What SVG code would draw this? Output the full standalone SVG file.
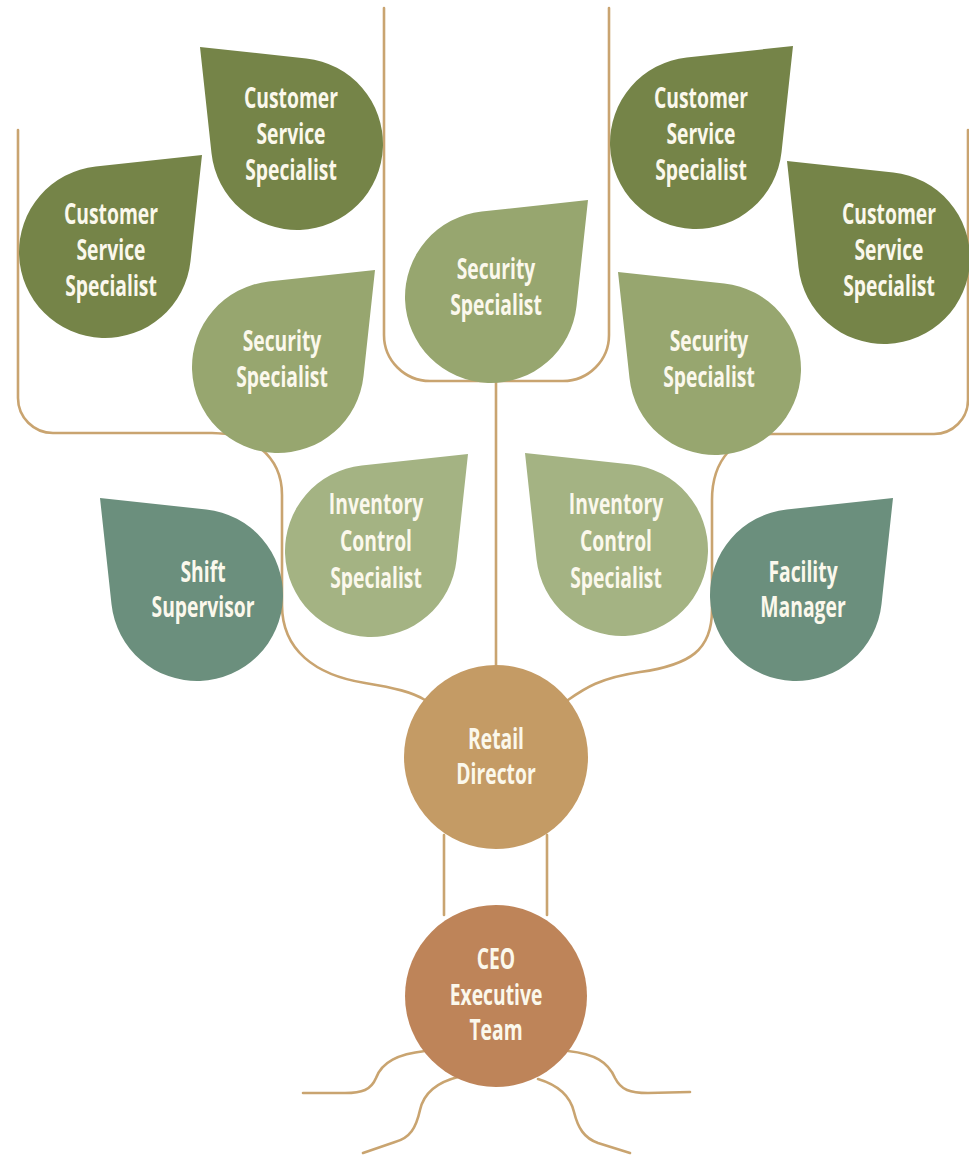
<svg xmlns="http://www.w3.org/2000/svg" xmlns:xlink="http://www.w3.org/1999/xlink" width="969" height="1158" viewBox="0 0 969 1158">
<style>
.bg{fill:#ffffff}
.ln{fill:none;stroke:#c9a470;stroke-width:2.6;stroke-linecap:round;stroke-linejoin:round}
.css{fill:#758448}
.sec{fill:#97a66f}
.inv{fill:#a4b383}
.teal{fill:#6b8f7d}
.retail{fill:#c49b65}
.ceo{fill:#be8459}
.lbl{font-family:"Open Sans","Noto Sans","DejaVu Sans",sans-serif;font-weight:700;font-size:28px;fill:#fbf8ec;text-anchor:middle}
</style>
<defs>
<path id="leafUL" d="M-97,-97 L9.3,-85.5 A86,86 0 1 1 -85.5,9.3 Z"/>
<path id="leafUR" d="M97,-97 L-9.3,-85.5 A86,86 0 1 0 85.5,9.3 Z"/>
</defs>
<rect class="bg" x="0" y="0" width="969" height="1158"/>
<g id="connectors">
<path class="ln" d="M18,130 V398 A35,35 0 0 0 53,433 H212 C250,433 282,455 282,495 V605 C282,650 315,675 365,683 C395,688 412,692 425,700"/>
<path class="ln" d="M968,130 V400 A34,34 0 0 1 934,434 H772 C735,434 712,460 712,500 V610 C712,650 690,665 640,672 C600,678 585,688 568,700"/>
<path class="ln" d="M384,8 V335 A46,46 0 0 0 430,381 H563 A46,46 0 0 0 609,335 V8"/>
<path class="ln" d="M496,381 V668"/>
<path class="ln" d="M444,835 V915"/>
<path class="ln" d="M547,835 V915"/>
<path class="ln" d="M425,1051 C398,1054 382,1062 376,1078 C371,1090 362,1093 345,1093 L303,1093"/>
<path class="ln" d="M458,1077 C438,1082 424,1092 420,1110 C416,1128 410,1138 395,1142 L363,1153"/>
<path class="ln" d="M538,1079 C558,1085 570,1095 574,1112 C578,1128 584,1138 598,1143 L630,1153"/>
<path class="ln" d="M568,1051 C595,1054 608,1062 615,1078 C621,1090 630,1093 648,1093 L690,1092"/>
</g>
<g id="css-upper-left">
<use xlink:href="#leafUL" href="#leafUL" class="css" transform="translate(297,144)"/>
<text class="lbl" transform="translate(291 0) scale(0.69 1)"><tspan x="0" y="108">Customer</tspan><tspan x="0" y="144">Service</tspan><tspan x="0" y="180">Specialist</tspan></text>
</g>
<g id="css-left">
<use xlink:href="#leafUR" href="#leafUR" class="css" transform="translate(105,252)"/>
<text class="lbl" transform="translate(111 0) scale(0.69 1)"><tspan x="0" y="224">Customer</tspan><tspan x="0" y="260">Service</tspan><tspan x="0" y="296">Specialist</tspan></text>
</g>
<g id="css-upper-right">
<use xlink:href="#leafUR" href="#leafUR" class="css" transform="translate(696,143)"/>
<text class="lbl" transform="translate(701 0) scale(0.69 1)"><tspan x="0" y="108">Customer</tspan><tspan x="0" y="144">Service</tspan><tspan x="0" y="180">Specialist</tspan></text>
</g>
<g id="css-right">
<use xlink:href="#leafUL" href="#leafUL" class="css" transform="translate(884,258)"/>
<text class="lbl" transform="translate(889 0) scale(0.69 1)"><tspan x="0" y="224">Customer</tspan><tspan x="0" y="260">Service</tspan><tspan x="0" y="296">Specialist</tspan></text>
</g>
<g id="security-left">
<use xlink:href="#leafUR" href="#leafUR" class="sec" transform="translate(278,367)"/>
<text class="lbl" transform="translate(282 0) scale(0.69 1)"><tspan x="0" y="351">Security</tspan><tspan x="0" y="387">Specialist</tspan></text>
</g>
<g id="security-center">
<use xlink:href="#leafUR" href="#leafUR" class="sec" transform="translate(491,297)"/>
<text class="lbl" transform="translate(496 0) scale(0.69 1)"><tspan x="0" y="279">Security</tspan><tspan x="0" y="315">Specialist</tspan></text>
</g>
<g id="security-right">
<use xlink:href="#leafUL" href="#leafUL" class="sec" transform="translate(715,369)"/>
<text class="lbl" transform="translate(709 0) scale(0.69 1)"><tspan x="0" y="351">Security</tspan><tspan x="0" y="387">Specialist</tspan></text>
</g>
<g id="shift-supervisor">
<use xlink:href="#leafUL" href="#leafUL" class="teal" transform="translate(197,595)"/>
<text class="lbl" transform="translate(203 0) scale(0.69 1)"><tspan x="0" y="582">Shift</tspan><tspan x="0" y="617">Supervisor</tspan></text>
</g>
<g id="inventory-left">
<use xlink:href="#leafUR" href="#leafUR" class="inv" transform="translate(371,551)"/>
<text class="lbl" transform="translate(376 0) scale(0.69 1)"><tspan x="0" y="514">Inventory</tspan><tspan x="0" y="551">Control</tspan><tspan x="0" y="588">Specialist</tspan></text>
</g>
<g id="inventory-right">
<use xlink:href="#leafUL" href="#leafUL" class="inv" transform="translate(622,550)"/>
<text class="lbl" transform="translate(616 0) scale(0.69 1)"><tspan x="0" y="514">Inventory</tspan><tspan x="0" y="551">Control</tspan><tspan x="0" y="588">Specialist</tspan></text>
</g>
<g id="facility-manager">
<use xlink:href="#leafUR" href="#leafUR" class="teal" transform="translate(796,595)"/>
<text class="lbl" transform="translate(803 0) scale(0.69 1)"><tspan x="0" y="582">Facility</tspan><tspan x="0" y="617">Manager</tspan></text>
</g>
<g id="retail-director">
<circle class="retail" cx="496" cy="757" r="92"/>
<text class="lbl" transform="translate(496 0) scale(0.69 1)"><tspan x="0" y="749">Retail</tspan><tspan x="0" y="784">Director</tspan></text>
</g>
<g id="ceo-executive-team">
<circle class="ceo" cx="496" cy="996" r="91"/>
<text class="lbl" transform="translate(496 0) scale(0.69 1)"><tspan x="0" y="969">CEO</tspan><tspan x="0" y="1005">Executive</tspan><tspan x="0" y="1040">Team</tspan></text>
</g>
</svg>
